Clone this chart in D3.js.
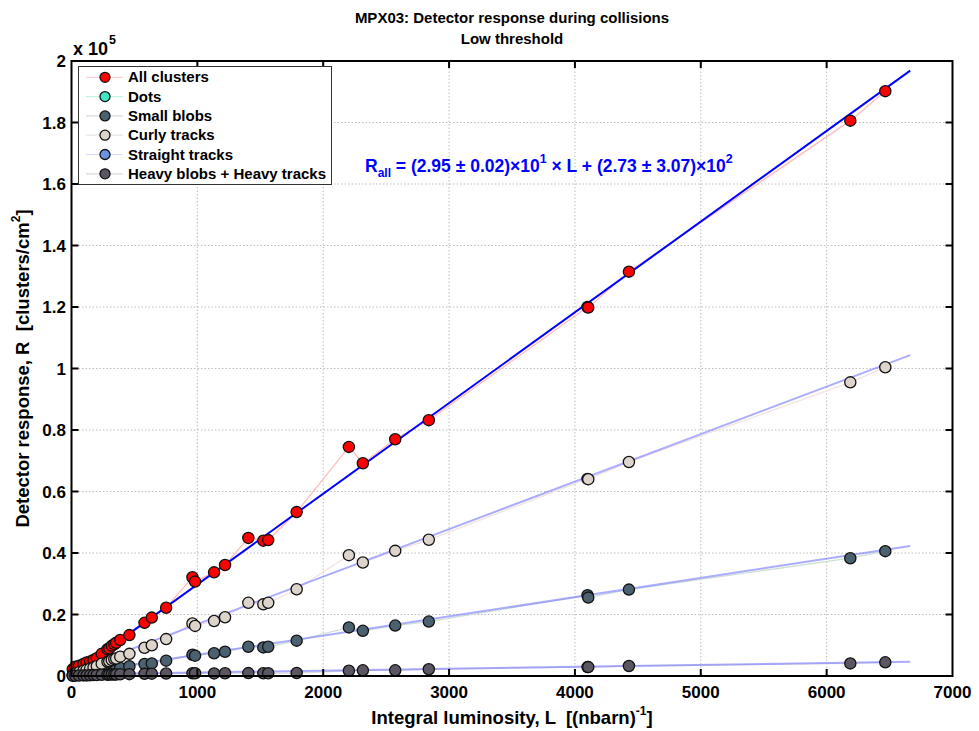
<!DOCTYPE html>
<html>
<head>
<meta charset="utf-8">
<script src="https://cdn.jsdelivr.net/npm/d3@7"></script>
<style>
  html, body { margin: 0; padding: 0; background: #fff; }
  svg { display: block; font-family: "Liberation Sans", Arial, sans-serif; }
</style>
</head>
<body>
<svg id="chart" width="979" height="731"></svg>
<script>
// ---------------- DATA (responses in units of 10^5 clusters/cm^2) ----------------
const luminosity = [10, 30, 60, 95, 120, 148, 175, 201, 240, 286, 300, 320, 340, 355, 387, 460,
  580, 638, 752, 961, 982, 1133, 1220, 1405, 1524, 1563, 1789, 2204, 2315, 2572, 2839,
  4100, 4106, 4429, 6188, 6466];
const allClusters = [0.022, 0.030, 0.033, 0.039, 0.044, 0.047, 0.052, 0.058, 0.072, 0.087, 0.090, 0.098, 0.103, 0.108, 0.117, 0.133,
  0.173, 0.190, 0.222, 0.321, 0.307, 0.337, 0.361, 0.449, 0.440, 0.442, 0.533, 0.745, 0.692, 0.770, 0.832,
  1.200, 1.198, 1.315, 1.806, 1.902];
const dots = [];
const smallBlobs = [0.002, 0.004, 0.006, 0.008, 0.009, 0.011, 0.013, 0.015, 0.017, 0.020, 0.021, 0.022, 0.023, 0.024, 0.026, 0.032,
  0.039, 0.041, 0.050, 0.069, 0.066, 0.074, 0.079, 0.095, 0.093, 0.095, 0.115, 0.158, 0.147, 0.164, 0.177,
  0.263, 0.255, 0.281, 0.383, 0.406];
const curlyTracks = [0.004, 0.008, 0.012, 0.017, 0.020, 0.024, 0.028, 0.032, 0.040, 0.046, 0.048, 0.052, 0.055, 0.057, 0.063, 0.072,
  0.092, 0.100, 0.120, 0.171, 0.163, 0.179, 0.191, 0.238, 0.233, 0.238, 0.282, 0.393, 0.369, 0.407, 0.443,
  0.641, 0.640, 0.696, 0.955, 1.004];
const straightTracks = [];
const heavy = [0.0005, 0.001, 0.0015, 0.002, 0.002, 0.0025, 0.003, 0.003, 0.004, 0.004, 0.0045, 0.005, 0.005, 0.005, 0.0055, 0.006,
  0.007, 0.0075, 0.008, 0.009, 0.009, 0.0085, 0.009, 0.0095, 0.009, 0.009, 0.0098, 0.017, 0.0185, 0.0185, 0.022,
  0.029, 0.029, 0.0325, 0.041, 0.0445];

// linear fits: [slope per (nbarn)^-1, intercept]  (units of 10^5)
const fitAll = [0.000295, 0.00273];
const fitCurly = [0.0001545, 0.014];
const fitSmall = [0.0000625, 0.0064];
const fitHeavy = [0.0000062, 0.0052];
const fitRange = [0, 6664];

const xTicks = [0, 1000, 2000, 3000, 4000, 5000, 6000, 7000];
const yTicks = [0, 0.2, 0.4, 0.6, 0.8, 1, 1.2, 1.4, 1.6, 1.8, 2];
const legendLabels = ["All clusters", "Dots", "Small blobs", "Curly tracks", "Straight tracks", "Heavy blobs + Heavy tracks"];

// ---------------- STYLE ----------------
const series = [
  { name: legendLabels[0], values: allClusters, fill: "#ff0000", link: "#ffbcbc", legendLine: "#ffd0d0" },
  { name: legendLabels[1], values: dots, fill: "#3ee6c6", link: "#c4f2dc", legendLine: "#c4f2dc" },
  { name: legendLabels[2], values: smallBlobs, fill: "#4b6170", link: "#cfe0d6", legendLine: "#d8d8d8" },
  { name: legendLabels[3], values: curlyTracks, fill: "#ddd5cb", link: "#f2e2e2", legendLine: "#e6e6e6" },
  { name: legendLabels[4], values: straightTracks, fill: "#6a94e0", link: "#d4defc", legendLine: "#d4defc" },
  { name: legendLabels[5], values: heavy, fill: "#5b5662", link: "#dcdcdc", legendLine: "#d8d8d8" }
];

const svg = d3.select("#chart");
const L = 71.5, R = 952.5, T = 61, B = 676;
const x = d3.scaleLinear().domain([0, 7000]).range([L, R]);
const y = d3.scaleLinear().domain([0, 2]).range([B, T]);

// grid
const grid = svg.append("g");
grid.selectAll("line.gx").data(xTicks.slice(1, -1)).join("line")
  .attr("x1", d => x(d)).attr("x2", d => x(d)).attr("y1", T).attr("y2", B)
  .attr("stroke", "#bdbdbd").attr("stroke-width", 1).attr("stroke-dasharray", "1.5,2");
grid.selectAll("line.gy").data(yTicks.slice(1, -1)).join("line")
  .attr("y1", d => y(d)).attr("y2", d => y(d)).attr("x1", L).attr("x2", R)
  .attr("stroke", "#bdbdbd").attr("stroke-width", 1).attr("stroke-dasharray", "1.5,2");

// connecting lines
const line = d3.line().x(d => x(d[0])).y(d => y(d[1]));
series.forEach(s => {
  if (!s.values.length) return;
  const pts = s.values.map((v, i) => [luminosity[i], v]);
  svg.append("path").attr("d", line(pts)).attr("fill", "none")
    .attr("stroke", s.link).attr("stroke-width", 1.3);
});

// fit lines
function fitPts(f) { return fitRange.map(l => [l, f[0] * l + f[1]]); }
[fitHeavy, fitSmall, fitCurly].forEach(f => {
  svg.append("path").attr("d", line(fitPts(f))).attr("fill", "none")
    .attr("stroke", "#7f7fff").attr("stroke-opacity", 0.65).attr("stroke-width", 2);
});
svg.append("path").attr("d", line(fitPts(fitAll))).attr("fill", "none")
  .attr("stroke", "#0000ff").attr("stroke-width", 2);

// markers
series.forEach(s => {
  svg.append("g").selectAll("circle").data(s.values.map((v, i) => [luminosity[i], v])).join("circle")
    .attr("cx", d => x(d[0])).attr("cy", d => y(d[1])).attr("r", 5.6)
    .attr("fill", s.fill).attr("stroke", "#111").attr("stroke-width", 1.3);
});

// axes box and ticks
svg.append("rect").attr("x", L).attr("y", T).attr("width", R - L).attr("height", B - T)
  .attr("fill", "none").attr("stroke", "#000").attr("stroke-width", 2);
const tk = svg.append("g").attr("stroke", "#000").attr("stroke-width", 2);
xTicks.slice(1, -1).forEach(t => {
  tk.append("line").attr("x1", x(t)).attr("x2", x(t)).attr("y1", B).attr("y2", B - 7);
  tk.append("line").attr("x1", x(t)).attr("x2", x(t)).attr("y1", T).attr("y2", T + 7);
});
yTicks.slice(1, -1).forEach(t => {
  tk.append("line").attr("y1", y(t)).attr("y2", y(t)).attr("x1", L).attr("x2", L + 7);
  tk.append("line").attr("y1", y(t)).attr("y2", y(t)).attr("x1", R).attr("x2", R - 7);
});

// tick labels
svg.append("g").selectAll("text").data(xTicks).join("text")
  .attr("x", d => x(d)).attr("y", 698).attr("text-anchor", "middle")
  .attr("font-size", 17).attr("font-weight", "bold").text(d => d);
svg.append("g").selectAll("text").data(yTicks).join("text")
  .attr("x", 66).attr("y", d => y(d) + 6).attr("text-anchor", "end")
  .attr("font-size", 17).attr("font-weight", "bold").text(d => d);

// x 10^5
const mult = svg.append("text").attr("x", 73).attr("y", 55).attr("font-size", 18).attr("font-weight", "bold");
mult.append("tspan").text("x 10");
mult.append("tspan").attr("font-size", 12.5).attr("dy", -11).attr("dx", 1).text("5");

// titles
svg.append("text").attr("x", (L + R) / 2).attr("y", 23).attr("text-anchor", "middle")
  .attr("font-size", 15).attr("font-weight", "bold").text("MPX03: Detector response during collisions");
svg.append("text").attr("x", (L + R) / 2).attr("y", 44).attr("text-anchor", "middle")
  .attr("font-size", 15).attr("font-weight", "bold").text("Low threshold");

// axis labels
const xl = svg.append("text").attr("x", (L + R) / 2).attr("y", 724).attr("text-anchor", "middle")
  .attr("font-size", 18.5).attr("font-weight", "bold");
xl.append("tspan").text("Integral luminosity, L \u00a0[(nbarn)");
xl.append("tspan").attr("font-size", 12).attr("dy", -9).text("-1");
xl.append("tspan").attr("dy", 9).text("]");
const yl = svg.append("text").attr("transform", `translate(29,${(T + B) / 2}) rotate(-90)`)
  .attr("text-anchor", "middle").attr("font-size", 18.5).attr("font-weight", "bold");
yl.append("tspan").text("Detector response, R \u00a0[clusters/cm");
yl.append("tspan").attr("font-size", 12).attr("dy", -9).text("2");
yl.append("tspan").attr("dy", 9).text("]");

// fit annotation
const ann = svg.append("text").attr("x", 365).attr("y", 172).attr("fill", "#0000ff")
  .attr("font-size", 17.5).attr("font-weight", "bold");
ann.append("tspan").text("R");
ann.append("tspan").attr("font-size", 12).attr("dy", 5).text("all");
ann.append("tspan").attr("dy", -5).text(" = (2.95 \u00b1 0.02)\u00d710");
ann.append("tspan").attr("font-size", 12.5).attr("dy", -9).text("1");
ann.append("tspan").attr("dy", 9).text(" \u00d7 L + (2.73 \u00b1 3.07)\u00d710");
ann.append("tspan").attr("font-size", 12.5).attr("dy", -9).text("2");

// legend
const lg = svg.append("g");
lg.append("rect").attr("x", 78.5).attr("y", 66.5).attr("width", 253).attr("height", 118)
  .attr("fill", "#fff").attr("stroke", "#333").attr("stroke-width", 1);
series.forEach((s, i) => {
  const cy = 77.3 + i * 19.3;
  lg.append("line").attr("x1", 86).attr("x2", 123).attr("y1", cy).attr("y2", cy)
    .attr("stroke", s.legendLine).attr("stroke-width", 1.2);
  lg.append("circle").attr("cx", 105).attr("cy", cy).attr("r", 5)
    .attr("fill", s.fill).attr("stroke", "#111").attr("stroke-width", 1.3);
  lg.append("text").attr("x", 128).attr("y", cy + 5).attr("font-size", 15).attr("font-weight", "bold")
    .text(s.name);
});
</script>
</body>
</html>
